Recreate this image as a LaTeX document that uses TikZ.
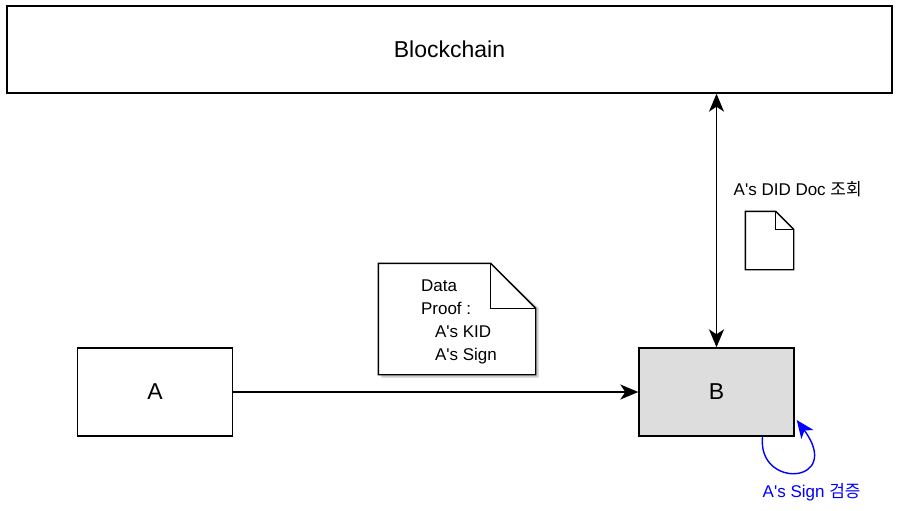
\documentclass[tikz,border=0pt]{standalone}
\usepackage{fontspec}
\setmainfont{Liberation Sans}
\newfontfamily\krfont{Noto Sans CJK KR}
\usetikzlibrary{arrows.meta}
\usetikzlibrary{calc}
\usetikzlibrary{backgrounds}

\definecolor{boxgray}{HTML}{DDDDDD}
\definecolor{signblue}{HTML}{0000FF}

% folded page outline round a node: #1 node name, #2 fold size
\newcommand{\dogear}[2]{%
\draw[fill=white] (#1.north west) -- ($(#1.north east)+(-#2,0)$) -- ($(#1.north east)+(0,#2)$) -- (#1.south east) -- (#1.south west) -- cycle;
\draw ($(#1.north east)+(-#2,0)$) -- ($(#1.north east)+(-#2,#2)$) -- ($(#1.north east)+(0,#2)$);
}

\begin{document}
\begin{tikzpicture}[x=1pt, y=-1pt, every path/.style={line width=1.4pt}, every node/.style={font=\fontsize{17}{23}\selectfont}, box/.style={draw, minimum width=155pt, minimum height=88pt, font=\fontsize{23}{28}\selectfont}, tip/.style={-{Stealth[length=18pt, width=15pt, inset=5pt]}}, twotip/.style={{Stealth[length=18pt, width=15pt, inset=5pt]}-{Stealth[length=18pt, width=15pt, inset=5pt]}}]
\useasboundingbox (0,0) rectangle (902,511);

\node[box, minimum width=885pt, minimum height=87pt] (chain) at (449.5,49.5) {Blockchain};
\node[box] (a) at (155,392) {A};
\node[box, fill=boxgray] (b) at (716.5,392) {B};

\node[minimum width=156pt, minimum height=110pt, align=left, inner sep=0pt] (proof) at (457,319) {};
\node[align=left, inner sep=0pt] (prooftext) at (459,322) {Data\\Proof :\\\hspace*{14pt}A\textquotesingle s KID\\\hspace*{14pt}A\textquotesingle s Sign};
\begin{scope}[on background layer]
\fill[black, opacity=0.2] ($(proof.north west)+(3,3)$) -- ($(proof.north east)+(-42,3)$) -- ($(proof.north east)+(3,45)$) -- ($(proof.south east)+(3,3)$) -- ($(proof.south west)+(3,3)$) -- cycle;
\dogear{proof}{45}
\end{scope}

\node[minimum width=47pt, minimum height=57pt, inner sep=0pt] (diddoc) at (769.5,240.5) {};
\dogear{diddoc}{18}
\node[anchor=west, inner sep=0pt] (lookup) at (733,189) {A\textquotesingle s DID Doc {\krfont 조회}};

\draw[tip] (a) -- (b);
\draw[twotip] (b.north) -- (b.north |- chain.south);
\draw[tip, signblue] ($(b.south)+(46,0)$) .. controls (757,490) and (844,484) .. ($(b.east)+(2,28)$);
\node[anchor=west, inner sep=0pt, text=signblue] (verify) at (762,492) {A\textquotesingle s Sign {\krfont 검증}};
\end{tikzpicture}
\end{document}
